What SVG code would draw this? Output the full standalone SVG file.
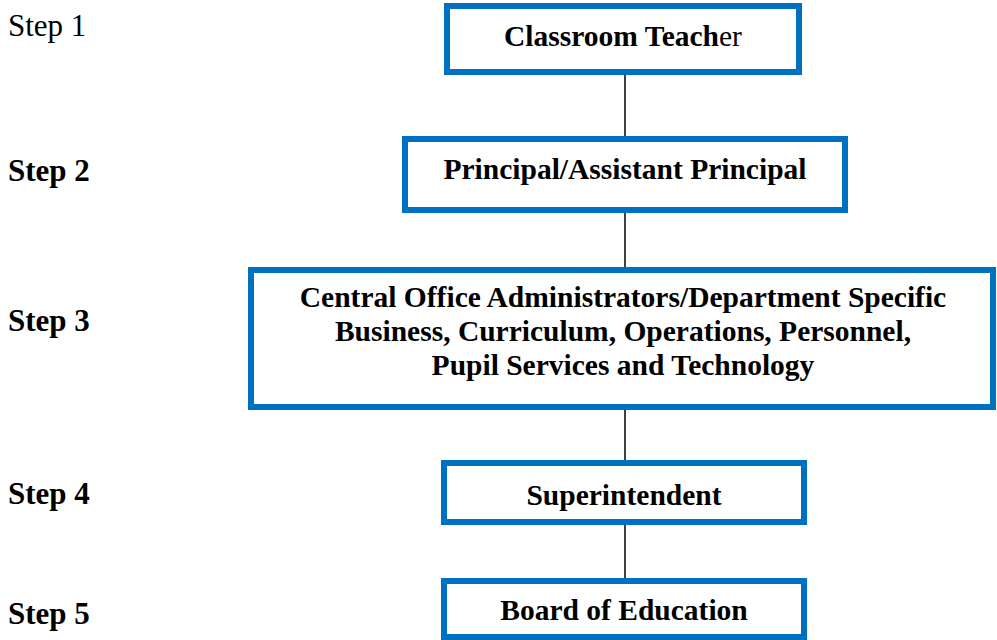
<svg xmlns="http://www.w3.org/2000/svg" width="997" height="640" viewBox="0 0 997 640">
<style>
.box{fill:#fff;stroke:#0070C0;stroke-width:6}
.t{font-family:"Liberation Serif","Times New Roman",serif;font-size:29.5px;font-weight:bold;fill:#000;text-anchor:middle}
.s{font-family:"Liberation Serif","Times New Roman",serif;font-size:31px;fill:#000}
.b{font-weight:bold}
.c{stroke:#000;stroke-width:1.5}
</style>
<rect width="997" height="640" fill="#fff"/>
<g id="connectors">
<line class="c" x1="625" y1="75" x2="625" y2="136"/>
<line class="c" x1="625" y1="213" x2="625" y2="267"/>
<line class="c" x1="625" y1="410" x2="625" y2="460"/>
<line class="c" x1="625" y1="525" x2="625" y2="578"/>
</g>
<g id="labels">
<text class="s" x="8" y="36">Step 1</text>
<text class="s b" x="8" y="181">Step 2</text>
<text class="s b" x="8" y="331">Step 3</text>
<text class="s b" x="8" y="504">Step 4</text>
<text class="s b" x="8" y="624">Step 5</text>
</g>
<g id="n1">
<rect class="box" x="447" y="6" width="352" height="66"/>
<text class="t" x="623" y="46">Classroom Teach<tspan font-weight="normal">er</tspan></text>
</g>
<g id="n2">
<rect class="box" x="405" y="139" width="440" height="71"/>
<text class="t" x="625" y="179">Principal/Assistant Principal</text>
</g>
<g id="n3">
<rect class="box" x="251" y="270" width="742" height="137"/>
<text class="t" x="623" y="307">Central Office Administrators/Department Specific</text>
<text class="t" x="623" y="341">Business, Curriculum, Operations, Personnel,</text>
<text class="t" x="623" y="375">Pupil Services and Technology</text>
</g>
<g id="n4">
<rect class="box" x="444" y="463" width="360" height="59"/>
<text class="t" x="624" y="505">Superintendent</text>
</g>
<g id="n5">
<rect class="box" x="444" y="581" width="360" height="56"/>
<text class="t" x="624" y="620">Board of Education</text>
</g>
</svg>
